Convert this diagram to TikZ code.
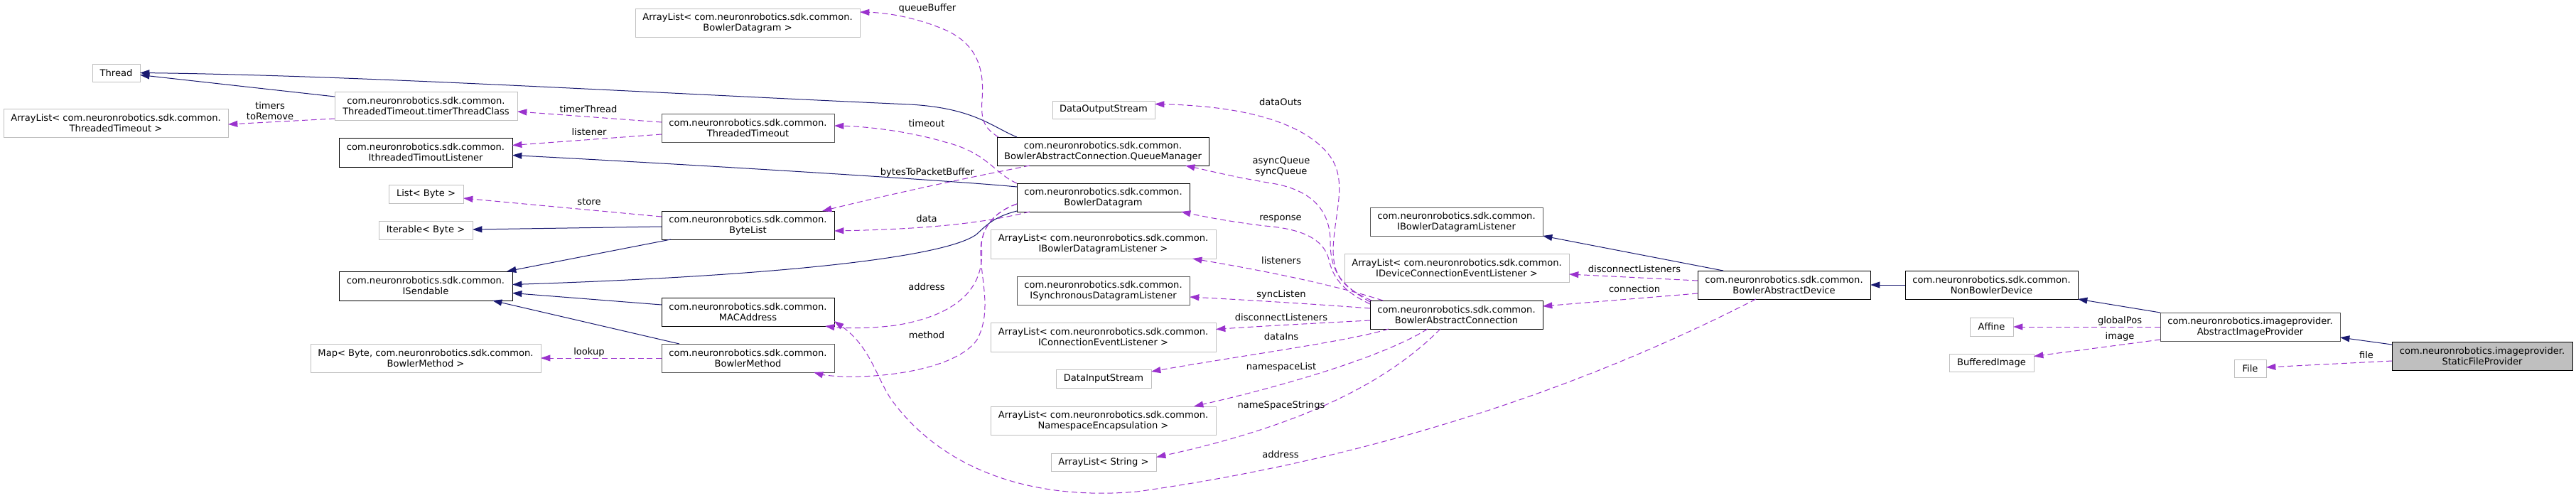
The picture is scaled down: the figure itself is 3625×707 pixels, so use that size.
\documentclass[tikz,border=0pt]{standalone}
\usepackage{fontspec}
\newfontfamily\dxfam{DejaVu Sans}
\usetikzlibrary{arrows.meta,calc}
\definecolor{inhc}{HTML}{191970}
\definecolor{usec}{HTML}{9A32CD}
\definecolor{gbord}{HTML}{BFBFBF}
\definecolor{dbord}{HTML}{555555}
\definecolor{gfill}{HTML}{BFBFBF}
\newcommand\dxfont{\dxfam\fontsize{9.8}{11.25}\selectfont}
\newcommand\bx[7]{\node[#1,minimum width={(#4-#3)*0.75pt},minimum height={(#6-#5)*0.75pt}] (#2) at ({(#3+#4)/2},{(#5+#6)/2}) {#7};}
\begin{document}
\begin{tikzpicture}[x=0.75pt,y=-0.75pt,
  box/.style={draw, inner sep=0pt, outer sep=0pt, align=center, line width=0.75pt, font=\dxfont, fill=white},
  ext/.style={box, draw=gbord},
  doc/.style={box, draw=black},
  docg/.style={box, draw=dbord},
  cur/.style={box, draw=black, fill=gfill},
  inh/.style={draw=inhc, line width=0.75pt, -{Triangle[length=10pt,width=6.7pt]}},
  use/.style={draw=usec, line width=0.75pt, dash pattern=on 6pt off 3.5pt, -{Triangle[length=10pt,width=6.7pt]}},
  lbl/.style={font=\dxfont, inner sep=0pt, align=center}]
\fill[white] (0,0) rectangle (3625,707);
\useasboundingbox (0,0) rectangle (3625,707);

% ---------- edges first (drawn under nodes) ----------
\path (0,0) coordinate (o);
% nodes
\bx{ext}{thr}{130}{197}{90}{115}{Thread}
\bx{ext}{altt}{5}{321}{153}{193}{ArrayList< com.neuronrobotics.sdk.common.\\ThreadedTimeout >}
\bx{ext}{ttc}{471}{728}{129}{169}{com.neuronrobotics.sdk.common.\\ThreadedTimeout.timerThreadClass}
\bx{doc}{itl}{477}{721}{194}{235}{com.neuronrobotics.sdk.common.\\IthreadedTimoutListener}
\bx{ext}{lb}{547}{652}{260}{286}{List< Byte >}
\bx{ext}{ib}{533}{665}{311}{337}{Iterable< Byte >}
\bx{doc}{isd}{477}{721}{382}{423}{com.neuronrobotics.sdk.common.\\ISendable}
\bx{ext}{map}{437}{761}{484}{524}{Map< Byte, com.neuronrobotics.sdk.common.\\BowlerMethod >}
\bx{ext}{albd}{894}{1210}{12}{52}{ArrayList< com.neuronrobotics.sdk.common.\\BowlerDatagram >}
\bx{docg}{tt}{931}{1174}{160}{200}{com.neuronrobotics.sdk.common.\\ThreadedTimeout}
\bx{doc}{bl}{931}{1174}{297}{337}{com.neuronrobotics.sdk.common.\\ByteList}
\bx{doc}{mac}{931}{1174}{419}{459}{com.neuronrobotics.sdk.common.\\MACAddress}
\bx{docg}{bm}{931}{1174}{484}{524}{com.neuronrobotics.sdk.common.\\BowlerMethod}
\bx{ext}{dos}{1481}{1625}{142}{167}{DataOutputStream}
\bx{doc}{qm}{1403}{1701}{193}{233}{com.neuronrobotics.sdk.common.\\BowlerAbstractConnection.QueueManager}
\bx{doc}{bd}{1431}{1674}{258}{298}{com.neuronrobotics.sdk.common.\\BowlerDatagram}
\bx{ext}{albdl}{1394}{1711}{323}{364}{ArrayList< com.neuronrobotics.sdk.common.\\IBowlerDatagramListener >}
\bx{docg}{isdl}{1431}{1674}{389}{429}{com.neuronrobotics.sdk.common.\\ISynchronousDatagramListener}
\bx{ext}{alcel}{1394}{1711}{454}{495}{ArrayList< com.neuronrobotics.sdk.common.\\IConnectionEventListener >}
\bx{ext}{dis}{1486}{1620}{520}{546}{DataInputStream}
\bx{ext}{alne}{1394}{1711}{572}{612}{ArrayList< com.neuronrobotics.sdk.common.\\NamespaceEncapsulation >}
\bx{ext}{als}{1479}{1627}{638}{663}{ArrayList< String >}
\bx{docg}{ibdl}{1928}{2171}{292}{332}{com.neuronrobotics.sdk.common.\\IBowlerDatagramListener}
\bx{ext}{aldcel}{1892}{2208}{357}{397}{ArrayList< com.neuronrobotics.sdk.common.\\IDeviceConnectionEventListener >}
\bx{doc}{bac}{1928}{2171}{423}{463}{com.neuronrobotics.sdk.common.\\BowlerAbstractConnection}
\bx{doc}{bad}{2389}{2632}{381}{421}{com.neuronrobotics.sdk.common.\\BowlerAbstractDevice}
\bx{doc}{nbd}{2681}{2924}{381}{421}{com.neuronrobotics.sdk.common.\\NonBowlerDevice}
\bx{ext}{aff}{2772}{2833}{447}{473}{Affine}
\bx{ext}{bi}{2743}{2862}{498}{523}{BufferedImage}
\bx{docg}{aip}{3040}{3293}{440}{480}{com.neuronrobotics.imageprovider.\\AbstractImageProvider}
\bx{ext}{file}{3144}{3189}{506}{531}{File}
\bx{cur}{sfp}{3366}{3620}{481}{521}{com.neuronrobotics.imageprovider.\\StaticFileProvider}

% ---------- inheritance ----------
\draw[inh] ($(ttc.west)+(0,-13)$) -- ($(thr.east)+(0,3)$);
\draw[inh] ($(qm.north west)+(28,0)$) .. controls (1395,178) and (1370,152) .. (1280,147) .. controls (900,130) and (500,106) .. (thr.east);
\draw[inh] ($(bd.west)+(0,-15)$) .. controls (1350,255) and (1000,233) .. ($(itl.east)+(0,4)$);
\draw[inh] ($(bl.west)+(0,2)$) -- ($(ib.east)+(0,-1)$);
\draw[inh] ($(bl.south west)+(13,0)$) -- ($(isd.north east)+(-8,0)$);
\draw[inh] ($(bd.south west)+(0,-1)$) .. controls (1400,305) and (1390,315) .. (1374,330) .. controls (1330,362) and (1100,388) .. ($(isd.east)+(0,-2)$);
\draw[inh] ($(mac.west)+(0,-10)$) -- ($(isd.east)+(0,10)$);
\draw[inh] ($(bm.north west)+(25,0)$) -- ($(isd.south east)+(-28,0)$);
\draw[inh] ($(bad.north west)+(36,0)$) -- (ibdl.south east);
\draw[inh] (nbd.west) -- (bad.east);
\draw[inh] (aip.north west) -- (nbd.south east);
\draw[inh] ($(sfp.west)+(0,-16)$) -- ($(aip.east)+(0,15)$);

% ---------- usage ----------
\draw[use] ($(ttc.west)+(0,18)$) -- ($(altt.east)+(0,2)$);
\node[lbl] (l1) at (380,156) {timers\\toRemove};
\draw[use] ($(tt.west)+(0,-8)$) -- ($(ttc.east)+(0,8)$);
\node[lbl] (l2) at (828,154) {timerThread};
\draw[use] ($(tt.west)+(0,9)$) -- ($(itl.east)+(0,-10)$);
\node[lbl] (l3) at (829,186) {listener};
\draw[use] ($(bl.west)+(0,-12)$) -- ($(lb.east)+(0,6)$);
\node[lbl] (l4) at (829,284) {store};
\draw[use] (bm.west) -- (map.east);
\node[lbl] (l5) at (829,496) {lookup};
\draw[use] (bd.north west) .. controls (1400,245) and (1390,215) .. (1330,200) .. controls (1280,185) and (1220,178) .. ($(tt.east)+(0,-3)$);
\node[lbl] (l6) at (1304,174) {timeout};
\draw[use] ($(qm.south west)+(46,0)$) .. controls (1400,243) and (1300,262) .. ($(bl.north east)+(-17,0)$);
\node[lbl] (l7) at (1305,243) {bytesToPacketBuffer};
\draw[use] ($(bd.south west)+(18,0)$) .. controls (1400,310) and (1330,322) .. ($(bl.east)+(0,8)$);
\node[lbl] (l8) at (1304,308) {data};
\draw[use] ($(bd.west)+(0,9)$) .. controls (1400,298) and (1383,318) .. (1381,345) .. controls (1388,410) and (1340,445) .. (1260,458) .. controls (1220,463) and (1185,462) .. ($(mac.south east)+(-13,0)$);
\node[lbl] (l9) at (1304,404) {address};
\draw[use] ($(bd.west)+(0,9)$) .. controls (1400,298) and (1378,320) .. (1380,360) .. controls (1382,400) and (1395,440) .. (1375,478) .. controls (1350,515) and (1260,532) .. (1185,530) .. controls (1165,529) and (1155,527) .. ($(bm.south east)+(-29,0)$);
\node[lbl] (l10) at (1304,472) {method};
\draw[use] ($(qm.north west)+(2,0)$) .. controls (1385,180) and (1380,170) .. (1382,140) .. controls (1386,90) and (1370,60) .. (1330,42) .. controls (1290,25) and (1250,18) .. ($(albd.east)+(0,-15)$);
\node[lbl] (l11) at (1305,12) {queueBuffer};
\draw[use] ($(bac.north west)+(2,0)$) .. controls (1890,405) and (1876,390) .. (1876,350) .. controls (1878,300) and (1895,260) .. (1875,225) .. controls (1850,185) and (1780,150) .. ($(dos.east)+(0,-8)$);
\node[lbl] (l12) at (1802,144) {dataOuts};
\draw[use] ($(bac.north west)+(0,2)$) .. controls (1885,400) and (1872,380) .. (1872,340) .. controls (1872,300) and (1850,268) .. (1790,258) .. controls (1740,250) and (1700,240) .. ($(qm.south east)+(-33,0)$);
\node[lbl] (l13) at (1803,235) {asyncQueue\\syncQueue};
\draw[use] ($(bac.north west)+(0,5)$) .. controls (1890,410) and (1875,390) .. (1870,365) .. controls (1862,335) and (1830,322) .. (1780,318) .. controls (1730,312) and (1690,304) .. ($(bd.south east)+(-12,0)$);
\node[lbl] (l14) at (1802,308) {response};
\draw[use] ($(bac.north west)+(18,0)$) .. controls (1900,408) and (1820,388) .. ($(albdl.south east)+(-33,0)$);
\node[lbl] (l15) at (1803,367) {listeners};
\draw[use] ($(bac.west)+(0,-9)$) .. controls (1850,428) and (1750,422) .. ($(isdl.east)+(0,9)$);
\node[lbl] (l16) at (1803,415) {syncListen};
\draw[use] ($(bac.west)+(0,8)$) .. controls (1850,455) and (1760,460) .. ($(alcel.east)+(0,-11)$);
\node[lbl] (l17) at (1803,447) {disconnectListeners};
\draw[use] ($(bac.south west)+(26,0)$) .. controls (1900,480) and (1750,500) .. ($(dis.east)+(0,-10)$);
\node[lbl] (l18) at (1803,474) {dataIns};
\draw[use] ($(bac.south west)+(81,0)$) .. controls (1950,500) and (1820,540) .. ($(alne.north east)+(-31,0)$);
\node[lbl] (l19) at (1803,517) {namespaceList};
\draw[use] ($(bac.south west)+(99,0)$) .. controls (1960,530) and (1850,595) .. ($(als.east)+(0,-7)$);
\node[lbl] (l20) at (1803,571) {nameSpaceStrings};
\draw[use] ($(bad.west)+(0,-6)$) -- ($(aldcel.east)+(0,9)$);
\node[lbl] (l21) at (2300,379) {disconnectListeners};
\draw[use] ($(bad.west)+(0,12)$) -- ($(bac.east)+(0,-12)$);
\node[lbl] (l22) at (2300,407) {connection};
\draw[use] ($(bad.south west)+(82,0)$) .. controls (2200,560) and (1900,650) .. (1600,692) .. controls (1450,705) and (1330,660) .. (1260,570) .. controls (1235,540) and (1228,490) .. ($(mac.east)+(0,13)$);
\node[lbl] (l23) at (1802,640) {address};
\draw[use] (aip.west) -- (aff.east);
\node[lbl] (l24) at (2983,452) {globalPos};
\draw[use] ($(aip.west)+(0,18)$) -- ($(bi.east)+(0,-9)$);
\node[lbl] (l25) at (2983,474) {image};
\draw[use] ($(sfp.west)+(0,7)$) -- ($(file.east)+(0,-1.5)$);
\node[lbl] (l26) at (3330,500) {file};
\end{tikzpicture}
\end{document}
